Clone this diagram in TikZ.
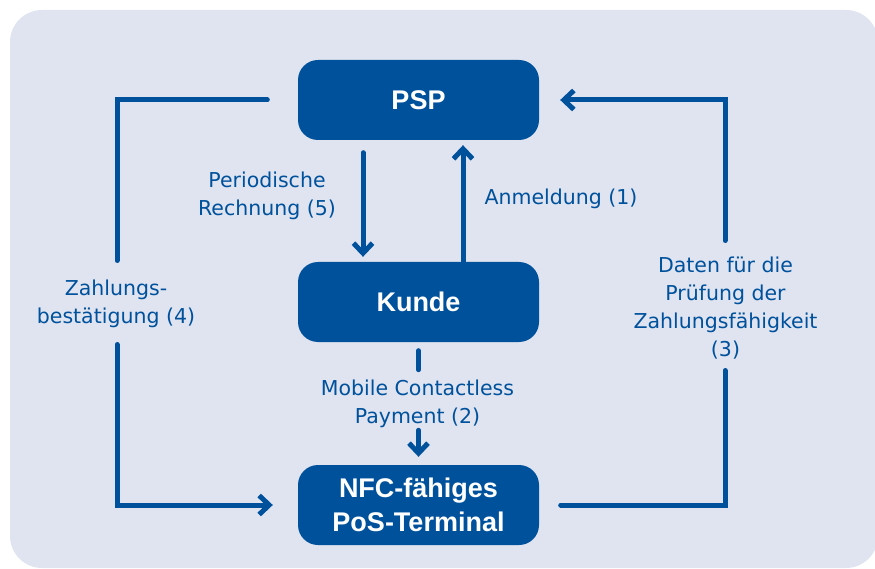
\documentclass[tikz,border=0pt]{standalone}
\usepackage{fontspec}
\setmainfont{Liberation Sans}
\newfontfamily\lblfont{DejaVu Sans}
\usetikzlibrary{arrows.meta}
\definecolor{bgc}{HTML}{DFE4F0}
\definecolor{dblue}{HTML}{00519C}
\begin{document}
\begin{tikzpicture}[x=1pt,y=-1pt,
  box/.style={fill=dblue, rounded corners=20pt, minimum width=241pt, minimum height=80pt,
    inner sep=0pt, text=white, font=\fontsize{27}{34}\selectfont\bfseries, align=center},
  lbl/.style={text=dblue, font=\lblfont\fontsize{20.5}{28}\selectfont, align=center, inner sep=0pt},
  conn/.style={draw=dblue, line width=5pt, line cap=round},
  arr/.style={conn, -{Straight Barb[length=10pt,width=19pt]}}]
\useasboundingbox (0,0) rectangle (875,569);
\fill[bgc, rounded corners=32pt] (10,10) rectangle (878,568);
% boxes
\node[box] (psp) at (418.5,100) {PSP};
\node[box] (kunde) at (418.5,302) {Kunde};
\node[box] (nfc) at (418.5,505) {NFC-fähiges\\PoS-Terminal};
% labels
\node[lbl] (l5) at (267,196) {Periodische\\Rechnung (5)};
\node[lbl, anchor=base] (l1) at (561,205) {Anmeldung (1)};
\node[lbl] (l4) at (116,303.5) {Zahlungs-\\bestätigung (4)};
\node[lbl] (l3) at (725.5,308.5) {Daten für die\\Prüfung der\\Zahlungsfähigkeit\\(3)};
\node[lbl] (l2) at (417.5,403.5) {Mobile Contactless\\Payment (2)};
% loop gap coordinates
\coordinate (l4top) at (117,260.5);
\coordinate (l4bot) at (117,344.5);
\coordinate (r3top) at (725,240.5);
\coordinate (r3bot) at (725,370.5);
% vertical arrows
\draw[arr] ([xshift=-55.5pt,yshift=-12.5pt]psp.south) -- ([xshift=-55.5pt,yshift=5pt]kunde.north);
\draw[arr] ([xshift=44.5pt,yshift=-6.5pt]kunde.north) -- ([xshift=44.5pt,yshift=-5pt]psp.south);
\draw[conn] ([yshift=-8.5pt]kunde.south) -- ([yshift=-27.5pt]kunde.south);
\draw[arr] ([yshift=34.5pt]nfc.north) -- ([yshift=8pt]nfc.north);
% left loop
\draw[conn] ([xshift=-30.5pt]psp.west) -| (l4top);
\draw[arr] (l4bot) |- ([xshift=-25pt]nfc.west);
% right loop
\draw[conn] ([xshift=21.5pt]nfc.east) -| (r3bot);
\draw[arr] (r3top) |- ([xshift=21pt]psp.east);
\end{tikzpicture}
\end{document}
